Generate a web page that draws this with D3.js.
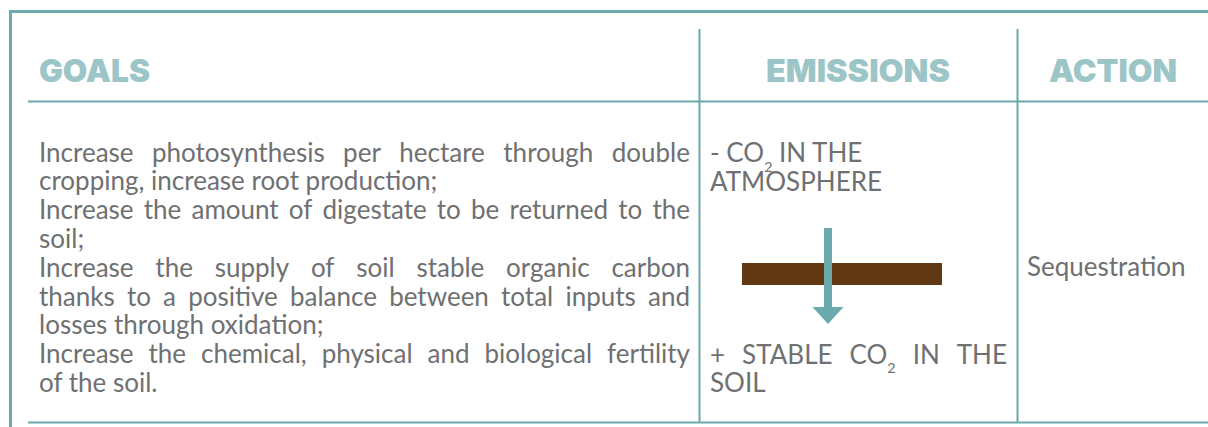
<!DOCTYPE html>
<html><head><meta charset="utf-8">
<script src="https://cdn.jsdelivr.net/npm/d3@7"></script>
<style>html,body{margin:0;padding:0;background:#fff;overflow:hidden}</style>
</head><body>
<svg id="c" width="1208" height="427"></svg>
<script>
const headers = ["GOALS", "EMISSIONS", "ACTION"];
const goalLines = [
  {t: "Increase photosynthesis per hectare through double", j: true},
  {t: "cropping, increase root production;", j: false},
  {t: "Increase the amount of digestate to be returned to the", j: true},
  {t: "soil;", j: false},
  {t: "Increase the supply of soil stable organic carbon", j: true},
  {t: "thanks to a positive balance between total inputs and", j: true},
  {t: "losses through oxidation;", j: false},
  {t: "Increase the chemical, physical and biological fertility", j: true},
  {t: "of the soil.", j: false}
];
const emissionTop = [{t: "- CO_2 IN THE", j: false}, {t: "ATMOSPHERE", j: false}];
const emissionBottom = [{t: "+ STABLE CO_2 IN THE", j: true}, {t: "SOIL", j: false}];
const actionText = ["Sequestration"];

const teal = "#6aa9ac", headC = "#9bc5c7", grey = "#6f7072";
const svg = d3.select("#c");
const FONT = "Lato, 'Open Sans', sans-serif";
const HFONT = "Inter, Lato, sans-serif";

// frame
const g = svg.append("g");
g.append("line").attr("x1", 9).attr("x2", 1208).attr("y1", 11.5).attr("y2", 11.5).attr("stroke", teal).attr("stroke-width", 3);
g.append("line").attr("x1", 10.5).attr("x2", 10.5).attr("y1", 10).attr("y2", 427).attr("stroke", teal).attr("stroke-width", 3);
g.append("line").attr("x1", 28).attr("x2", 1208).attr("y1", 101.5).attr("y2", 101.5).attr("stroke", teal).attr("stroke-width", 2);
g.append("line").attr("x1", 28).attr("x2", 1208).attr("y1", 422.5).attr("y2", 422.5).attr("stroke", teal).attr("stroke-width", 2);
[699.5, 1017.5].forEach(x => g.append("line").attr("x1", x).attr("x2", x).attr("y1", 29).attr("y2", 422).attr("stroke", teal).attr("stroke-width", 2));

// headers
const hPos = [[39, 111], [766, 184], [1049, 128]];
headers.forEach((h, i) => {
  svg.append("text").attr("x", hPos[i][0]).attr("y", 82)
    .attr("font-family", HFONT).attr("font-weight", 900).attr("font-size", 31)
    .attr("fill", headC).attr("textLength", hPos[i][1]).attr("lengthAdjust", "spacingAndGlyphs")
    .text(h);
});

// body font-size fit
const probe = svg.append("text").attr("font-family", FONT).attr("font-size", 20).text("cropping, increase root production;");
const w20 = probe.node().getComputedTextLength();
probe.remove();
const fs = Math.max(18, Math.min(26, 20 * 439 / w20));

function makeText(str, x, y) {
  const t = svg.append("text").attr("x", x).attr("y", y).attr("font-family", FONT)
    .attr("font-size", fs).attr("fill", grey).style("white-space", "pre");
  const parts = str.split(/_(\d)/);
  let pendingDy = 0;
  parts.forEach((p, i) => {
    if (i % 2 === 1) {
      t.append("tspan").attr("font-size", fs * 0.55).attr("dy", fs * 0.38).text(p);
      pendingDy = -fs * 0.38;
    } else if (p.length) {
      const s = t.append("tspan").text(p);
      if (pendingDy) { s.attr("dy", pendingDy); pendingDy = 0; }
    }
  });
  return t;
}
function renderLine(line, x0, x1, y) {
  if (!line.j) { makeText(line.t, x0, y); return; }
  const words = line.t.split(" ");
  const nodes = words.map(w => makeText(w, 0, y));
  const ws = nodes.map(n => n.node().getComputedTextLength());
  const gap = (x1 - x0 - d3.sum(ws)) / (words.length - 1);
  let x = x0;
  nodes.forEach((n, i) => { n.attr("x", x); x += ws[i] + gap; });
}

const lh = 28.8, y0 = 161.5;
goalLines.forEach((l, i) => renderLine(l, 39, 690, y0 + i * lh));
emissionTop.forEach((l, i) => renderLine(l, 710, 1007, 162 + i * lh));
emissionBottom.forEach((l, i) => renderLine(l, 710, 1007, 363.5 + i * lh));
actionText.forEach((a, i) => renderLine({t: a, j: false}, 1027, 1200, 276 + i * lh));

// soil bar and arrow
svg.append("rect").attr("x", 742).attr("y", 263).attr("width", 200).attr("height", 22).attr("fill", "#603913");
svg.append("rect").attr("x", 824).attr("y", 228).attr("width", 8).attr("height", 80).attr("fill", teal);
svg.append("path").attr("d", d3.line()([[812.5, 307], [843.5, 307], [828, 324]])).attr("fill", teal);
</script>
</body></html>
